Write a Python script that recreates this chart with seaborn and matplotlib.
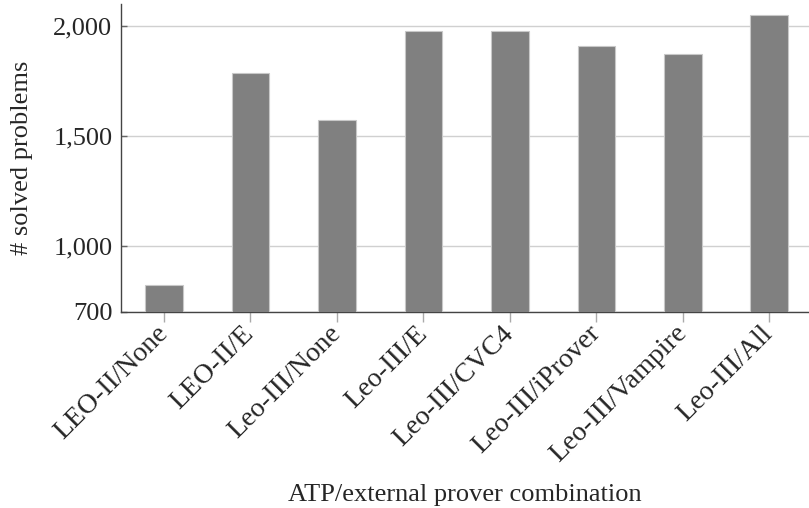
import matplotlib
matplotlib.use("Agg")
import matplotlib.pyplot as plt
import seaborn as sns
import pandas as pd

categories = ["LEO-II/None", "LEO-II/E", "Leo-III/None", "Leo-III/E",
              "Leo-III/CVC4", "Leo-III/iProver", "Leo-III/Vampire", "Leo-III/All"]
solved = [823, 1788, 1573, 1977, 1976, 1908, 1874, 2051]
y_ticks = [700, 1000, 1500, 2000]
y_tick_labels = ["700", "1,000", "1,500", "2,000"]

sns.set_theme(style="white")
plt.rcParams['font.family'] = ['Liberation Serif', 'DejaVu Serif']

df = pd.DataFrame({"combo": categories, "solved": solved})

W, H = 809, 508
fig = plt.figure(figsize=(W / 100, H / 100), dpi=100)
left, right = 120.7, 812.5
top, bottom = 4.0, 311.7
ax = fig.add_axes([left / W, 1 - bottom / H, (right - left) / W, (bottom - top) / H])

sns.barplot(data=df, x="combo", y="solved", color="#808080", saturation=1,
            width=0.434, edgecolor="#c8c8c8", linewidth=0.8, ax=ax, zorder=3)

ax.set_xlim(-0.5, 7.5)
ax.set_ylim(700, 2100)
ax.set_yticks(y_ticks)
ax.set_yticklabels(y_tick_labels, fontsize=19)
ax.yaxis.grid(True, color="#d0d0d0", linewidth=1.0, zorder=0)
ax.xaxis.grid(False)
ax.set_axisbelow(True)

for s in ["top", "right"]:
    ax.spines[s].set_visible(False)
for s in ["left", "bottom"]:
    ax.spines[s].set_color("#444444")
    ax.spines[s].set_linewidth(1.0)

ax.tick_params(axis="y", direction="in", length=4, width=1, color="#666666", pad=6, left=True)
ax.tick_params(axis="x", direction="out", length=7, width=1, color="#aaaaaa", pad=6, bottom=True)
ax.set_xticks(range(len(categories)))
ax.set_xticklabels(categories, rotation=45, ha="right", va="center",
                   rotation_mode="anchor", fontsize=20)

ax.set_xlabel("ATP/external prover combination", fontsize=19)
ax.set_ylabel("# solved problems", fontsize=19)
ax.xaxis.set_label_coords((465 - left) / (right - left), -(495 - bottom) / (bottom - top))
ax.xaxis.label.set_va("center")
ax.yaxis.set_label_coords(-(left - 22) / (right - left), 0.5)
ax.yaxis.label.set_va("center")

fig.text(2 / W, 1 + 6 / H, "lems", fontsize=19, ha="left", va="center")

fig.savefig("out.png", dpi=100)
